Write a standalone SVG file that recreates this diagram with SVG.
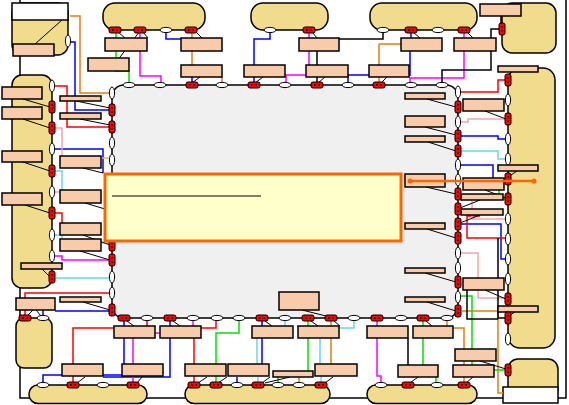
<svg xmlns="http://www.w3.org/2000/svg" xmlns:xlink="http://www.w3.org/1999/xlink" width="569" height="405" viewBox="0 0 569 405">
<style>
.blob{fill:#f0dc8c;stroke:#000;stroke-width:1.5}
.wbox{fill:#fff;stroke:#000;stroke-width:1.5}
.lbl{fill:#f8cbab;stroke:#000;stroke-width:1.5}
.c{fill:none;stroke-width:1.5}
.red{stroke:#ff0000}.blu{stroke:#0000ff}.mag{stroke:#ff00ff}.grn{stroke:#00e000}.cyn{stroke:#66d8e8}.pnk{stroke:#f4a4ac}.org{stroke:#e08010}.blk{stroke:#000}
.ld{fill:none;stroke:#000;stroke-width:1}
</style>
<defs>
<g id="wh"><ellipse rx="6" ry="2.6" fill="#fff" stroke="#000" stroke-width="1"/></g>
<g id="wv"><ellipse rx="2.6" ry="6" fill="#fff" stroke="#000" stroke-width="1"/></g>
<g id="rh"><rect x="-6" y="-3" width="12" height="6" rx="2" fill="#f00" stroke="#000" stroke-width="1"/><path d="M-3,-1h1.5v2h-1.5zM1.5,-1h1.5v2h-1.5z" fill="#000"/></g>
<g id="rv"><rect x="-3" y="-6" width="6" height="12" rx="2" fill="#f00" stroke="#000" stroke-width="1"/><path d="M-1,-3v1.5h2v-1.5zM-1,1.5v1.5h2v-1.5z" fill="#000"/></g>
</defs>

<g id="frame"><path d="M20,0V398H566V0" fill="none" stroke="#000" stroke-width="1.5"/></g>

<g id="blob-topleft"><rect class="blob" x="12" y="3" width="56" height="52" rx="10"/><rect class="wbox" x="12" y="3" width="56" height="17"/></g>
<g id="blob-left"><rect class="blob" x="12" y="75" width="40" height="213" rx="10"/></g>
<g id="blob-bottomleft"><rect class="blob" x="16" y="318" width="36" height="50" rx="8"/></g>
<g id="blob-bottom1"><rect class="blob" x="29" y="385" width="118" height="18.5" rx="9"/></g>
<g id="blob-bottom2"><rect class="blob" x="185" y="385" width="145" height="18.5" rx="9"/></g>
<g id="blob-bottom3"><rect class="blob" x="367" y="385" width="110" height="18.5" rx="9"/></g>
<g id="blob-bottomright"><rect class="blob" x="508" y="359" width="50" height="40" rx="10"/><rect class="wbox" x="503" y="387" width="55" height="16"/></g>
<g id="blob-right"><rect class="blob" x="508" y="68" width="47" height="280" rx="12"/></g>
<g id="blob-topright"><rect class="blob" x="502" y="3" width="54" height="50" rx="10"/></g>
<g id="blob-top1"><rect class="blob" x="103" y="3" width="102" height="27" rx="12"/></g>
<g id="blob-top2"><rect class="blob" x="251" y="3" width="77" height="27" rx="12"/></g>
<g id="blob-top3"><rect class="blob" x="370" y="3" width="107" height="27" rx="12"/></g>
<g id="center"><rect x="112" y="85" width="346" height="233" rx="12" fill="#f0f0f0" stroke="#000" stroke-width="1.5"/></g>

<g id="connectors">
<path class="c org" d="M70,16H80V93H110M192,32V38M192,51V65M222,77V83M379,44H401M379,44V65M379,77V83M453,328H464V383M447,320V326M462,311H498V393H503M331,320V326M331,338V364M299,377V383"/>
<path class="c blu" d="M68,42H75V110H110M166,32V39H181M192,77V83M270,32V39H254V65M254,77V83M369,75H348V83M411,32V38M410,51V76M460,136H498V139H505M460,165H493V178M460,224H501V259H505M55,149H103V173M43,316V310M55,311H110M124,320V326M124,338V364M43,383V375H122M170,320V326M170,338V377H103M262,320V326M262,338V364M237,377V383"/>
<path class="c mag" d="M140,32V76H161V83M309,32V38M309,51V65M306,75H286V83M464,32V38M464,51V78H410V83M55,256H62V260H110M193,320V326M133,338V364M133,376V383M155,333H160M377,320V326M377,338V376H381V383"/>
<path class="c grn" d="M116,32V38M116,51V71H129V83M239,320V333H216V383M308,320V326M308,338V371M278,377V383M423,320V326M423,338V365M436,377V383M460,296H472V365M499,190V199H505M494,370H505"/>
<path class="c red" d="M55,86H67V127H110M460,92H498V80H505M480,216H467V238H505M55,213H62V223M25,298V293H110M25,310V316M147,320V326M114,328H73V364M73,376V383M201,328H216V320M194,338V364M194,376V383"/>
<path class="c cyn" d="M460,151H498V159H505M55,171H62V190M55,235H62V243H110M56,278H110M257,338V364M258,377V383M285,320V326M354,320V328H339M320,338V364M321,376V383"/>
<path class="c pnk" d="M55,128H62V158H110M460,122H468V119H505M460,253H478V298H505M472,200V219H505M55,192H62V200"/>
<path class="c blk" d="M442,83V70H491V29H499M339,39H383V32M317,51V65M317,77V83M408,338V365M498,238V318H505M467,290V319H498M501,16V24"/>
<path class="ld" d="M117,61L140,31M118,32L125,38M143,32L148,38M197,33L202,38M312,32L317,38M413,32L420,38M467,32L473,38M200,77L192,83M263,77L255,83M325,77L318,83M387,77L381,83M23,99L50,107M23,119L50,128M23,162L50,171M25,205L50,213M42,269L50,277M35,44L62,20M76,101L110,108M80,119L110,125M83,168L103,173M85,203L105,209M83,235L110,245M80,251L110,260M83,302L110,310M427,99L456,107M425,127L456,135M428,142L456,151M426,187L456,194M427,229L456,238M425,273L456,282M427,302L456,311M485,111L506,119M485,190L506,198M480,200L460,208M480,215L460,223M485,290L506,299M512,72L508,76M517,171L508,177M515,312L508,316M480,361L506,369M127,321L134,326M173,321L180,326M265,321L272,326M311,321L318,326M334,321L340,326M426,321L432,326M302,310L330,317M77,383L85,377M137,383L142,377M198,383L207,377M218,383L227,377M262,383L270,377M325,383L333,377M410,383L418,377M466,383L473,377M265,383L290,377M33,310L27,316M36,310L41,316"/>
</g>

<g id="labels">
<g id="l1"><rect class="lbl" x="105" y="38" width="42" height="13"/></g>
<g id="l2"><rect class="lbl" x="181" y="38" width="41" height="13"/></g>
<g id="l3"><rect class="lbl" x="299" y="38" width="40" height="13"/></g>
<g id="l4"><rect class="lbl" x="401" y="38" width="41" height="13"/></g>
<g id="l5"><rect class="lbl" x="454" y="38" width="42" height="13"/></g>
<g id="l6"><rect class="lbl" x="88" y="58" width="41" height="13"/></g>
<g id="l7"><rect class="lbl" x="181" y="65" width="41" height="12"/></g>
<g id="l8"><rect class="lbl" x="244" y="65" width="41" height="12"/></g>
<g id="l9"><rect class="lbl" x="306" y="65" width="42" height="12"/></g>
<g id="l10"><rect class="lbl" x="369" y="65" width="40" height="12"/></g>
<g id="l11"><rect class="lbl" x="480" y="4" width="41" height="12"/></g>
<g id="l12"><rect class="lbl" x="498" y="66" width="40" height="6"/></g>
<g id="l13"><rect class="lbl" x="13" y="44" width="41" height="12"/></g>
<g id="l14"><rect class="lbl" x="2" y="87" width="40" height="12"/></g>
<g id="l15"><rect class="lbl" x="2" y="107" width="40" height="12"/></g>
<g id="l16"><rect class="lbl" x="2" y="151" width="40" height="11"/></g>
<g id="l17"><rect class="lbl" x="2" y="193" width="40" height="12"/></g>
<g id="l18"><rect class="lbl" x="21" y="263" width="41" height="6"/></g>
<g id="l19"><rect class="lbl" x="16" y="298" width="39" height="12"/></g>
<g id="l20"><rect class="lbl" x="60" y="96" width="41" height="5"/></g>
<g id="l21"><rect class="lbl" x="60" y="113" width="41" height="6"/></g>
<g id="l22"><rect class="lbl" x="60" y="156" width="41" height="12"/></g>
<g id="l23"><rect class="lbl" x="60" y="190" width="41" height="13"/></g>
<g id="l24"><rect class="lbl" x="60" y="223" width="41" height="12"/></g>
<g id="l25"><rect class="lbl" x="60" y="239" width="41" height="12"/></g>
<g id="l26"><rect class="lbl" x="60" y="297" width="41" height="5"/></g>
<g id="l27"><rect class="lbl" x="405" y="93" width="40" height="6"/></g>
<g id="l28"><rect class="lbl" x="405" y="116" width="40" height="11"/></g>
<g id="l29"><rect class="lbl" x="405" y="136" width="40" height="6"/></g>
<g id="l30"><rect class="lbl" x="405" y="174" width="40" height="13"/></g>
<g id="l31"><rect class="lbl" x="405" y="223" width="40" height="6"/></g>
<g id="l32"><rect class="lbl" x="405" y="268" width="40" height="5"/></g>
<g id="l33"><rect class="lbl" x="405" y="297" width="40" height="5"/></g>
<g id="l34"><rect class="lbl" x="463" y="99" width="41" height="12"/></g>
<g id="l35"><rect class="lbl" x="463" y="178" width="41" height="12"/></g>
<g id="l36"><rect class="lbl" x="461" y="194" width="42" height="6"/></g>
<g id="l37"><rect class="lbl" x="461" y="209" width="42" height="6"/></g>
<g id="l38"><rect class="lbl" x="463" y="278" width="41" height="12"/></g>
<g id="l39"><rect class="lbl" x="498" y="165" width="40" height="6"/></g>
<g id="l40"><rect class="lbl" x="498" y="306" width="40" height="6"/></g>
<g id="l41"><rect class="lbl" x="455" y="349" width="41" height="12"/></g>
<g id="l42"><rect class="lbl" x="279" y="292" width="40" height="18"/></g>
<g id="l43"><rect class="lbl" x="114" y="326" width="41" height="12"/></g>
<g id="l44"><rect class="lbl" x="160" y="326" width="41" height="12"/></g>
<g id="l45"><rect class="lbl" x="252" y="326" width="41" height="12"/></g>
<g id="l46"><rect class="lbl" x="298" y="326" width="41" height="12"/></g>
<g id="l47"><rect class="lbl" x="367" y="326" width="41" height="12"/></g>
<g id="l48"><rect class="lbl" x="413" y="326" width="40" height="12"/></g>
<g id="l49"><rect class="lbl" x="62" y="364" width="41" height="12"/></g>
<g id="l50"><rect class="lbl" x="122" y="364" width="41" height="12"/></g>
<g id="l51"><rect class="lbl" x="185" y="364" width="41" height="12"/></g>
<g id="l52"><rect class="lbl" x="228" y="364" width="41" height="12"/></g>
<g id="l53"><rect class="lbl" x="273" y="371" width="40" height="6"/></g>
<g id="l54"><rect class="lbl" x="315" y="364" width="42" height="12"/></g>
<g id="l55"><rect class="lbl" x="398" y="365" width="40" height="12"/></g>
<g id="l56"><rect class="lbl" x="453" y="365" width="41" height="12"/></g>
</g>

<g id="ports">
<use xlink:href="#rh" x="115" y="30"/><use xlink:href="#rh" x="140" y="30"/><use xlink:href="#wh" x="166" y="30"/><use xlink:href="#rh" x="191" y="30"/>
<use xlink:href="#wh" x="270" y="30"/><use xlink:href="#rh" x="309" y="30"/>
<use xlink:href="#wh" x="383" y="30"/><use xlink:href="#rh" x="411" y="30"/><use xlink:href="#wh" x="438" y="30"/><use xlink:href="#rh" x="464" y="30"/>
<use xlink:href="#wh" x="129" y="85"/><use xlink:href="#wh" x="160" y="85"/><use xlink:href="#rh" x="192" y="85"/><use xlink:href="#wh" x="222" y="85"/><use xlink:href="#rh" x="254" y="85"/><use xlink:href="#wh" x="285" y="85"/><use xlink:href="#rh" x="317" y="85"/><use xlink:href="#wh" x="348" y="85"/><use xlink:href="#rh" x="379" y="85"/><use xlink:href="#wh" x="411" y="85"/><use xlink:href="#wh" x="442" y="85"/>
<use xlink:href="#wv" x="112" y="93"/><use xlink:href="#rv" x="112" y="110"/><use xlink:href="#rv" x="112" y="127"/><use xlink:href="#wv" x="112" y="143"/><use xlink:href="#wv" x="112" y="160"/><use xlink:href="#rv" x="112" y="245"/><use xlink:href="#rv" x="112" y="260"/><use xlink:href="#wv" x="112" y="277"/><use xlink:href="#wv" x="112" y="293"/><use xlink:href="#rv" x="112" y="310"/>
<use xlink:href="#rh" x="124" y="318"/><use xlink:href="#wh" x="147" y="318"/><use xlink:href="#rh" x="170" y="318"/><use xlink:href="#wh" x="193" y="318"/><use xlink:href="#wh" x="217" y="318"/><use xlink:href="#wh" x="239" y="318"/><use xlink:href="#rh" x="262" y="318"/><use xlink:href="#wh" x="285" y="318"/><use xlink:href="#rh" x="308" y="318"/><use xlink:href="#rh" x="331" y="318"/><use xlink:href="#wh" x="354" y="318"/><use xlink:href="#rh" x="377" y="318"/><use xlink:href="#wh" x="401" y="318"/><use xlink:href="#rh" x="423" y="318"/><use xlink:href="#wh" x="447" y="318"/>
<use xlink:href="#wv" x="458" y="92"/><use xlink:href="#rv" x="458" y="107"/><use xlink:href="#wv" x="458" y="122"/><use xlink:href="#rv" x="458" y="136"/><use xlink:href="#rv" x="458" y="151"/><use xlink:href="#wv" x="458" y="165"/><use xlink:href="#wv" x="458" y="180"/><use xlink:href="#rv" x="458" y="194"/><use xlink:href="#rv" x="458" y="209"/><use xlink:href="#rv" x="458" y="224"/><use xlink:href="#rv" x="458" y="238"/><use xlink:href="#wv" x="458" y="253"/><use xlink:href="#wv" x="458" y="268"/><use xlink:href="#rv" x="458" y="282"/><use xlink:href="#wv" x="458" y="297"/><use xlink:href="#rv" x="458" y="311"/>
<use xlink:href="#wv" x="52" y="86"/><use xlink:href="#rv" x="52" y="107"/><use xlink:href="#rv" x="52" y="128"/><use xlink:href="#wv" x="52" y="149"/><use xlink:href="#rv" x="52" y="171"/><use xlink:href="#wv" x="52" y="192"/><use xlink:href="#rv" x="52" y="213"/><use xlink:href="#wv" x="52" y="235"/><use xlink:href="#wv" x="52" y="256"/><use xlink:href="#rv" x="52" y="277"/>
<use xlink:href="#wv" x="68" y="41"/>
<use xlink:href="#rh" x="25" y="318"/><use xlink:href="#wh" x="43" y="318"/>
<use xlink:href="#rv" x="508" y="80"/><use xlink:href="#wv" x="508" y="100"/><use xlink:href="#rv" x="508" y="119"/><use xlink:href="#wv" x="508" y="139"/><use xlink:href="#wv" x="508" y="159"/><use xlink:href="#rv" x="508" y="179"/><use xlink:href="#rv" x="508" y="199"/><use xlink:href="#wv" x="508" y="219"/><use xlink:href="#wv" x="508" y="239"/><use xlink:href="#wv" x="508" y="259"/><use xlink:href="#wv" x="508" y="279"/><use xlink:href="#rv" x="508" y="299"/><use xlink:href="#rv" x="508" y="318"/><use xlink:href="#wv" x="508" y="339"/>
<use xlink:href="#rv" x="508" y="370"/><use xlink:href="#rv" x="502" y="29"/>
<use xlink:href="#wh" x="43" y="385"/><use xlink:href="#rh" x="73" y="385"/><use xlink:href="#wh" x="103" y="385"/><use xlink:href="#rh" x="133" y="385"/>
<use xlink:href="#rh" x="194" y="385"/><use xlink:href="#rh" x="216" y="385"/><use xlink:href="#wh" x="237" y="385"/><use xlink:href="#rh" x="258" y="385"/><use xlink:href="#wh" x="278" y="385"/><use xlink:href="#wh" x="299" y="385"/><use xlink:href="#rh" x="321" y="385"/>
<use xlink:href="#wh" x="381" y="385"/><use xlink:href="#rh" x="408" y="385"/><use xlink:href="#wh" x="437" y="385"/><use xlink:href="#rh" x="464" y="385"/>
</g>

<g id="note"><rect x="105" y="174" width="296" height="67" fill="#ffffcc" stroke="#ff6600" stroke-width="3"/><line x1="112" y1="196" x2="261" y2="196" stroke="#000" stroke-width="1"/></g>

<g id="orange-link"><path d="M410,181H534" fill="none" stroke="#ff6600" stroke-width="2.5"/><circle cx="410" cy="181" r="2.5" fill="#ff6600"/><circle cx="534" cy="181" r="2.5" fill="#ff6600"/></g>
</svg>
